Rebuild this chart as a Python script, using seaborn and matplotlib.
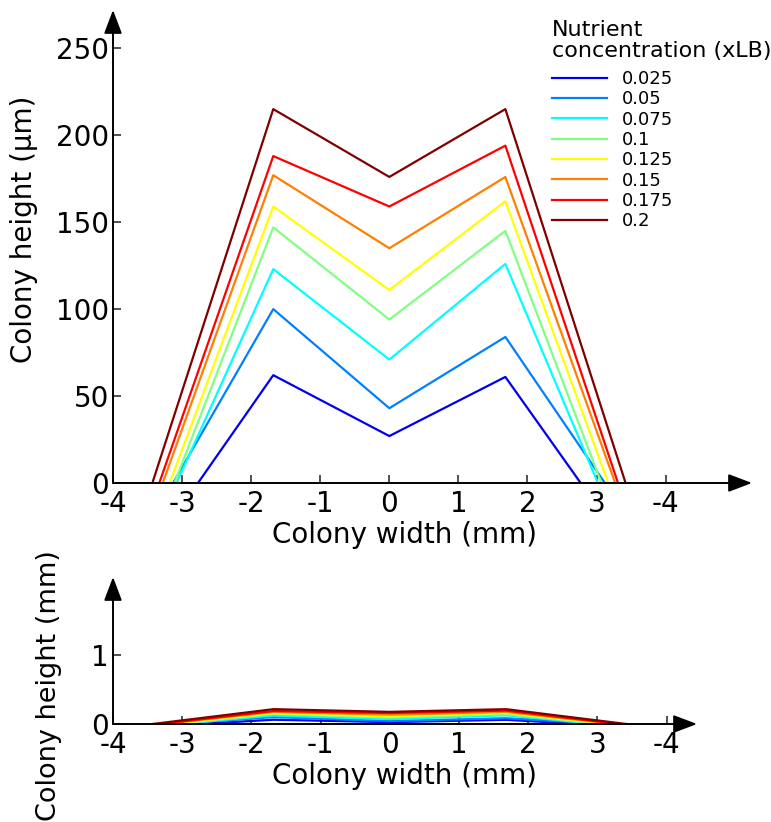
import numpy as np
import pandas as pd
import matplotlib
matplotlib.use('Agg')
import matplotlib.pyplot as plt
import seaborn as sns

plt.rcParams['font.family'] = ['DejaVu Sans']
plt.rcParams['text.color'] = 'black'

# nutrient levels (xLB) and colony profiles
conc = ['0.025', '0.05', '0.075', '0.1', '0.125', '0.15', '0.175', '0.2']
colors = ['#0000ee', '#0080ff', '#00ffff', '#80ff80',
          '#ffff00', '#ff8000', '#ff0000', '#800000']
edge_left = [-2.77, -3.13, -3.08, -3.11, -3.18, -3.28, -3.33, -3.43]
edge_right = [2.77, 3.12, 3.02, 3.07, 3.17, 3.27, 3.31, 3.42]
peak_pos = [-1.68, 0.0, 1.68]
peak_left = [62, 100, 123, 147, 159, 177, 188, 215]   # um
center = [27, 43, 71, 94, 111, 135, 159, 176]
peak_right = [61, 84, 126, 145, 162, 176, 194, 215]
xtick_vals = [-4, -3, -2, -1, 0, 1, 2, 3, 4]
xtick_labels = ['-4', '-3', '-2', '-1', '0', '1', '2', '3', '-4']

rows = []
for i, c in enumerate(conc):
    xs = [edge_left[i]] + peak_pos + [edge_right[i]]
    hs = [0, peak_left[i], center[i], peak_right[i], 0]
    for x, h in zip(xs, hs):
        rows.append({'width': x, 'height_um': h, 'height_mm': h / 1000, 'conc': c})
df = pd.DataFrame(rows)
pal = dict(zip(conc, colors))

fig = plt.figure(figsize=(7.71, 8.22), dpi=100)
W, H = 771, 822
AX_COL = '#333333'


def add_ax(l, r, b, t):
    return fig.add_axes([l / W, 1 - b / H, (r - l) / W, (b - t) / H])


def arrows(ax):
    for s in ax.spines.values():
        s.set_visible(False)
    kw = dict(arrowstyle='-|>,head_length=1.45,head_width=0.55', color='black',
              lw=1.4, mutation_scale=10, shrinkA=0, shrinkB=0)
    ax.annotate('', xy=(1, 0), xytext=(0, 0), xycoords='axes fraction',
                arrowprops=kw, annotation_clip=False)
    ax.annotate('', xy=(0, 1), xytext=(0, 0), xycoords='axes fraction',
                arrowprops=kw, annotation_clip=False)


def style(ax):
    ax.set_facecolor('none')
    ax.tick_params(axis='both', direction='in', length=6, width=1.2,
                   color=AX_COL, labelsize=20, labelcolor='black')
    ax.tick_params(axis='x', pad=5)
    ax.tick_params(axis='y', pad=3)
    arrows(ax)


# ---- top panel (um)
ax1 = add_ax(113, 752, 483, 10)
sns.lineplot(data=df, x='width', y='height_um', hue='conc', hue_order=conc,
             palette=pal, estimator=None, sort=False, lw=1.6, ax=ax1)
ax1.set_xlim(-4, 5.25)
ax1.set_ylim(0, 272)
ax1.set_xticks(xtick_vals)
ax1.set_xticklabels(xtick_labels)
ax1.set_yticks([0, 50, 100, 150, 200, 250])
style(ax1)
ax1.set_xlabel('Colony width (mm)', fontsize=20)
ax1.set_ylabel('Colony height (μm)', fontsize=20)
ax1.xaxis.set_label_coords((404 - 113) / (752 - 113), -(521 - 483) / (483 - 10))
ax1.yaxis.set_label_coords(-(113 - 38) / (752 - 113), (483 - 229) / (483 - 10))

# legend: title as separate text so its gap to the entries matches
fig.text(552 / W, 1 - 20 / H, 'Nutrient\nconcentration (xLB)', fontsize=16,
         va='top', ha='left', linespacing=1.05)
ax1.legend(loc='upper left', bbox_to_anchor=(552 / W, 1 - 70 / H),
           bbox_transform=fig.transFigure, frameon=False, fontsize=13,
           handlelength=3.05, handletextpad=0.83, labelspacing=0.13,
           borderpad=0, borderaxespad=0)

# ---- bottom panel (mm)
ax2 = add_ax(113, 697, 724, 577)
sns.lineplot(data=df, x='width', y='height_mm', hue='conc', hue_order=conc,
             palette=pal, estimator=None, sort=False, lw=1.6, ax=ax2, legend=False)
ax2.set_xlim(-4, 4.44)
ax2.set_ylim(0, 2.13)
ax2.set_xticks(xtick_vals)
ax2.set_xticklabels(xtick_labels)
ax2.set_yticks([0, 1])
style(ax2)
ax2.set_xlabel('Colony width (mm)', fontsize=20)
ax2.set_ylabel('Colony height (mm)', fontsize=19.5)
ax2.xaxis.set_label_coords((404 - 113) / (697 - 113), -(762 - 724) / (724 - 577))
ax2.yaxis.set_label_coords(-(113 - 62) / (697 - 113), (724 - 686) / (724 - 577))

fig.savefig('out.png', dpi=100)
